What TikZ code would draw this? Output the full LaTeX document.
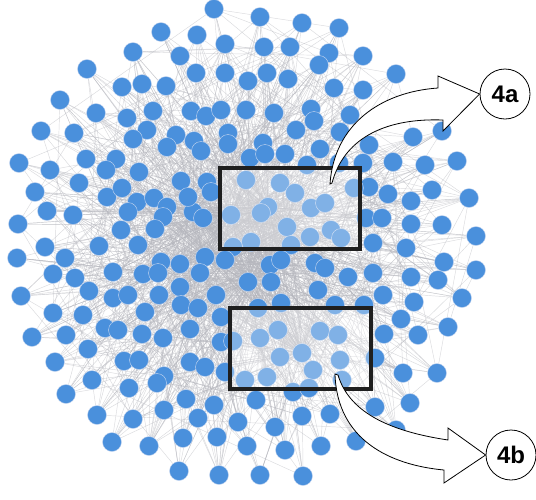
\documentclass[tikz,border=0pt]{standalone}
\usepackage{fontspec}
\newfontfamily\labfont{Liberation Sans}
\pgfdeclarelayer{bg}
\pgfsetlayers{bg,main}
\definecolor{nodeblue}{RGB}{74,144,220}
\definecolor{edgegray}{RGB}{180,181,188}
\tikzset{
  nd/.style={circle, fill=nodeblue, draw={rgb,255:red,200;green,215;blue,240}, line width=0.4pt, minimum size=19pt, inner sep=0pt},
  edge/.style={draw=edgegray, line width=0.45pt, opacity=0.5},
  zoombox/.style={fill=white, fill opacity=0.3, draw=black!88, line width=3.6pt},
  bigarrow/.style={fill=white, draw=black, line width=0.8pt, line join=miter},
  tag/.style={circle, draw=black, line width=0.8pt, fill=white, minimum size=50pt, inner sep=0pt, font=\labfont\bfseries\fontsize{24}{24}\selectfont}
}
\begin{document}
\begin{tikzpicture}[x=1pt,y=-1pt]
\useasboundingbox (0,0) rectangle (536,499);
\pgfmathsetseed{4242}
% nodes (first eight are the hubs)
\foreach \x/\y [count=\i] in {
287/227, 302/353, 231/215, 248/282, 205/257, 268/207, 270/265, 193/212,
214/9, 260/17, 302/23, 339/28, 161/32, 197/35, 225/44, 264/47, 290/47, 133/52, 329/53, 180/56, 363/56,
87/69, 319/65, 196/73, 225/73, 267/73, 396/74, 248/81, 288/79, 142/84, 122/87, 166/86, 334/88, 363/90, 60/100,
96/113, 153/111, 127/118, 191/111, 206/116, 221/110, 246/110, 274/113, 311/109, 314/121, 350/115,
41/131, 74/133, 147/130, 133/139, 176/135, 228/133, 296/130, 340/132, 413/137, 442/131,
167/147, 194/141, 201/151, 228/144, 263/143, 320/149, 369/145,
19/163, 86/159, 116/159, 250/158, 265/154, 285/154, 363/163, 393/162, 425/165, 457/161, 50/170, 106/170, 139/172, 307/165, 339/163,
181/181, 35/192, 79/183, 107/197, 122/188, 137/202, 154/198, 207/182, 188/197, 211/192, 369/187, 388/194, 411/201, 432/190, 469/198, 246/180, 280/183, 295/193, 354/188,
167/207, 128/212, 163/217, 47/211, 73/215, 18/224, 121/230, 155/229, 45/247, 99/246, 138/245, 203/218, 261/213, 311/208, 325/203, 310/237, 331/230, 341/238, 251/242, 291/245, 233/247, 366/218, 382/218, 411/224, 442/225, 476/236, 373/243, 406/248,
17/258, 65/258, 53/274, 75/278, 113/272, 143/274, 161/262, 158/273, 180/264, 89/291, 113/298, 128/295, 159/295, 180/287, 21/296, 225/260, 200/273, 281/260, 271/282, 315/263, 325/268, 348/277, 318/290, 216/295, 444/262, 476/270, 373/273, 411/277, 438/280, 383/295, 462/298,
53/313, 83/315, 145/312, 105/328, 118/330, 142/334, 32/337, 66/335, 163/338, 181/305, 198/308, 221/317, 258/308, 281/303, 335/305, 414/302, 364/305, 401/319, 448/327, 384/334, 418/335, 190/329, 88/349, 260/338, 278/330, 320/331, 338/335,
55/362, 124/361, 139/360, 92/380, 164/376, 157/383, 66/394, 129/388, 221/342, 233/341, 190/362, 205/367, 225/372, 280/357, 313/370, 340/360, 245/380, 267/377, 342/380, 375/358, 403/373, 437/373, 186/399,
97/415, 133/419, 164/410, 214/405, 256/400, 293/392, 309/388, 198/418, 238/422, 275/427, 302/416, 330/414, 112/442, 149/446, 183/438, 217/437, 247/446, 285/450, 321/446, 356/441, 179/471, 219/475, 260/475, 303/476, 375/407, 410/403, 396/430}
{ \node[nd] (n\i) at (\x,\y) {}; \xdef\NN{\i} }
% edges
\begin{pgfonlayer}{bg}
\foreach \i in {1,...,\NN} {
  \foreach \k in {1,2,3,4} {
    \pgfmathtruncatemacro\j{random(1,8)}
    \ifnum\j=\i\else \draw[edge] (n\i) -- (n\j); \fi
  }
  \foreach \k in {1,2,3} {
    \pgfmathtruncatemacro\j{random(1,\NN)}
    \ifnum\j=\i\else \draw[edge] (n\i) -- (n\j); \fi
  }
}
\end{pgfonlayer}
% zoom boxes
\draw[zoombox] (220,168) rectangle (360,249);
\draw[zoombox] (230,308) rectangle (371,389);
% tags
\node[tag] (t4a) at (505,94) {4a};
\node[tag] (t4b) at (511,455) {4b};
% big arrows
\coordinate (a4tail) at (330,184);
\draw[bigarrow] (a4tail) .. controls (334,125) and (380,92) .. (438,88)
  -- (438,76) -- (t4a.west) -- (443,131) -- (443,120)
  .. controls (390,118) and (345,135) .. (332,183) -- cycle;
\coordinate (b4tail) at (335,374);
\draw[bigarrow] (b4tail) .. controls (337,440) and (390,465) .. (444,470)
  -- (444,483) -- (t4b.west) -- (448,428) -- (448,440)
  .. controls (395,432) and (350,415) .. (338,375) -- cycle;
\end{tikzpicture}
\end{document}
